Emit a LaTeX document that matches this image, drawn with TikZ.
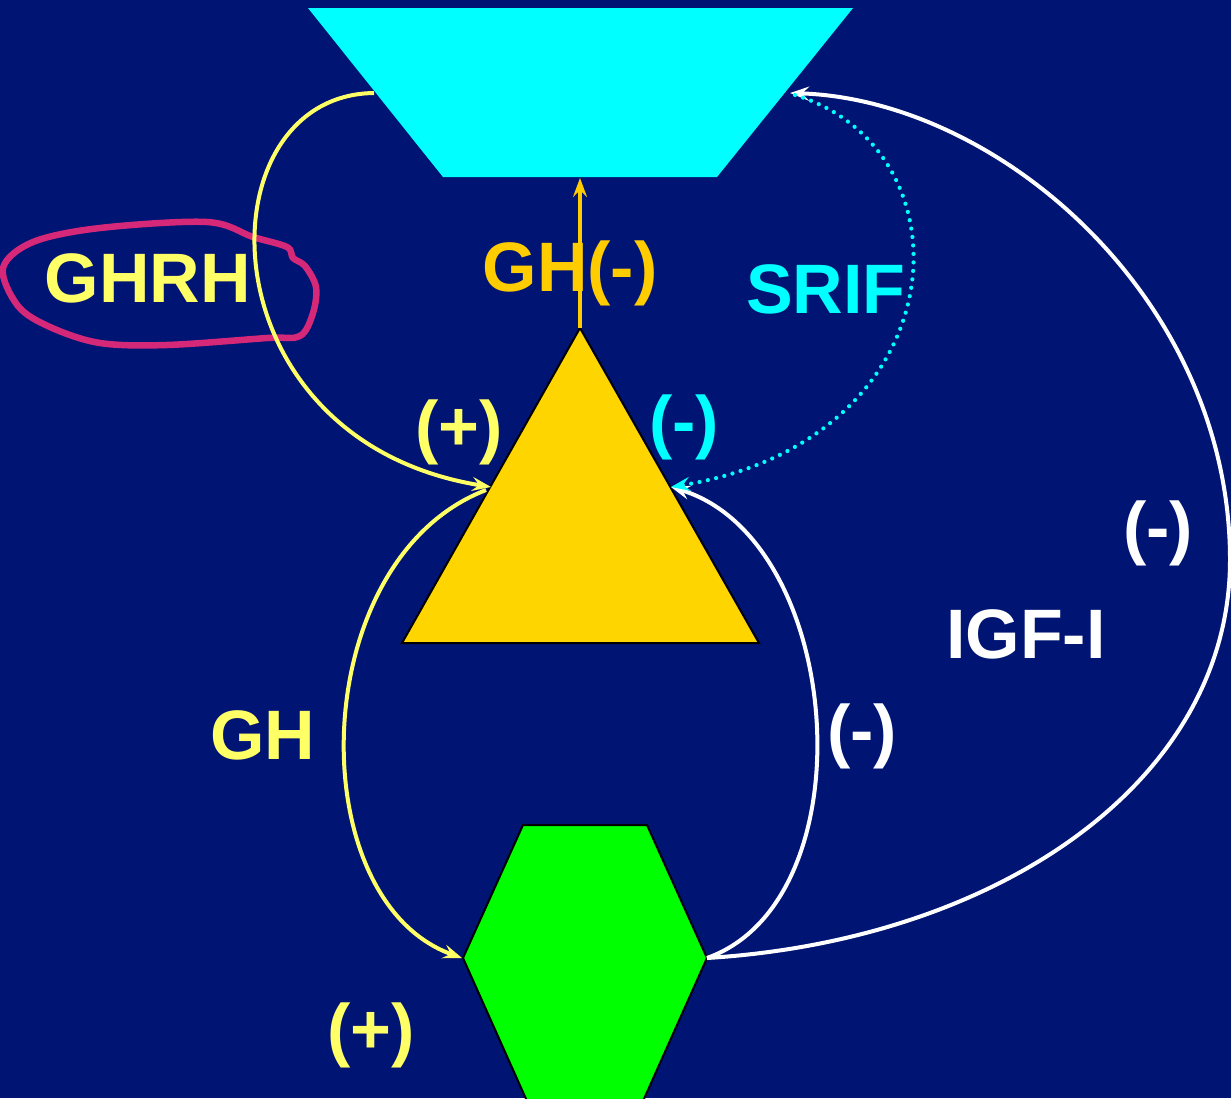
\documentclass[tikz,border=0pt]{standalone}
\usepackage{fontspec}
\setmainfont{Liberation Sans}
\usetikzlibrary{arrows.meta}
\definecolor{bg}{RGB}{0,20,115}
\definecolor{cyanc}{RGB}{0,255,255}
\definecolor{goldt}{RGB}{255,213,0}
\definecolor{orangeg}{RGB}{255,204,0}
\definecolor{yell}{RGB}{255,255,102}
\definecolor{greenh}{RGB}{0,255,0}
\definecolor{pinkc}{RGB}{214,40,120}
\tikzset{
  lbl/.style={font=\fontsize{70}{84}\selectfont\bfseries, inner sep=0pt, anchor=center},
  tip/.style={-{Stealth[length=19pt,width=14pt,inset=7pt]}},
  conn/.style={line width=4pt, tip},
}
\begin{document}
\begin{tikzpicture}[x=1pt,y=-1pt]
\fill[bg] (0,0) rectangle (1231,1098);
\useasboundingbox (0,0) rectangle (1231,1098);

% shapes
\fill[cyanc] (308,8) -- (853,8) -- (717,177) -- (443,177) -- cycle;
\filldraw[fill=goldt, draw=black, line width=2pt] (580,328) -- (759,643) -- (402,643) -- cycle;
\filldraw[fill=greenh, draw=black, line width=2pt] (523,825) -- (647,825) -- (707,958) -- (639,1110) -- (531,1110) -- (463,958) -- cycle;

% anchor coordinates
\coordinate (trapL) at (374,93);
\coordinate (trapR) at (790,93);
\coordinate (trapB) at (580,178);
\coordinate (apex) at (580,328);
\coordinate (triL) at (491,487);
\coordinate (triLs) at (486,490);
\coordinate (triR) at (671,487);
\coordinate (hexL) at (462,958);
\coordinate (hexR) at (707,958);

% pink hand-drawn loop
\draw[pinkc, line width=6.5pt, line join=round] plot[smooth cycle, tension=0.55] coordinates {
 (3,268) (33,242) (100,228) (207,222) (253,237) (287,247) (293,258) (305,266)
 (316,287) (313,313) (300,336) (267,338) (167,345) (100,343) (50,327) (18,306)};

% connectors
\draw[yell, conn] (trapL) .. controls (200,95) and (200,440) .. (triL);
\draw[yell, conn] (triLs) .. controls (305,560) and (300,900) .. (hexL);
\draw[white, conn] (hexR) .. controls (870,900) and (845,540) .. (triR);
\draw[white, conn] (hexR) .. controls (1000,940) and (1230,780) .. (1230,560)
   .. controls (1230,300) and (1000,100) .. (trapR);
\draw[cyanc, line width=4.2pt, dash pattern=on 0pt off 8.5pt, line cap=round, tip] (795,95) .. controls (975,150) and (960,440) .. (triR);
\draw[orangeg, line width=4.2pt, tip] (apex) -- (trapB);

% labels
\node[lbl, text=orangeg] (lgh) at (570,273) {GH(-)};
\node[lbl, text=yell] (lghrh) at (148,278) {GHRH};
\node[lbl, text=cyanc] (lsrif) at (826,289) {SRIF};
\node[lbl, text=yell] (lp1) at (459,432) {(+)};
\node[lbl, text=cyanc] (lm1) at (684,427) {(-)};
\node[lbl, text=white] (lm2) at (1158,533) {(-)};
\node[lbl, text=white] (ligf) at (1026,634) {IGF-I};
\node[lbl, text=white] (lm3) at (862,736) {(-)};
\node[lbl, text=yell] (lgh2) at (263,735) {GH};
\node[lbl, text=yell] (lp2) at (371,1035) {(+)};
\end{tikzpicture}
\end{document}
